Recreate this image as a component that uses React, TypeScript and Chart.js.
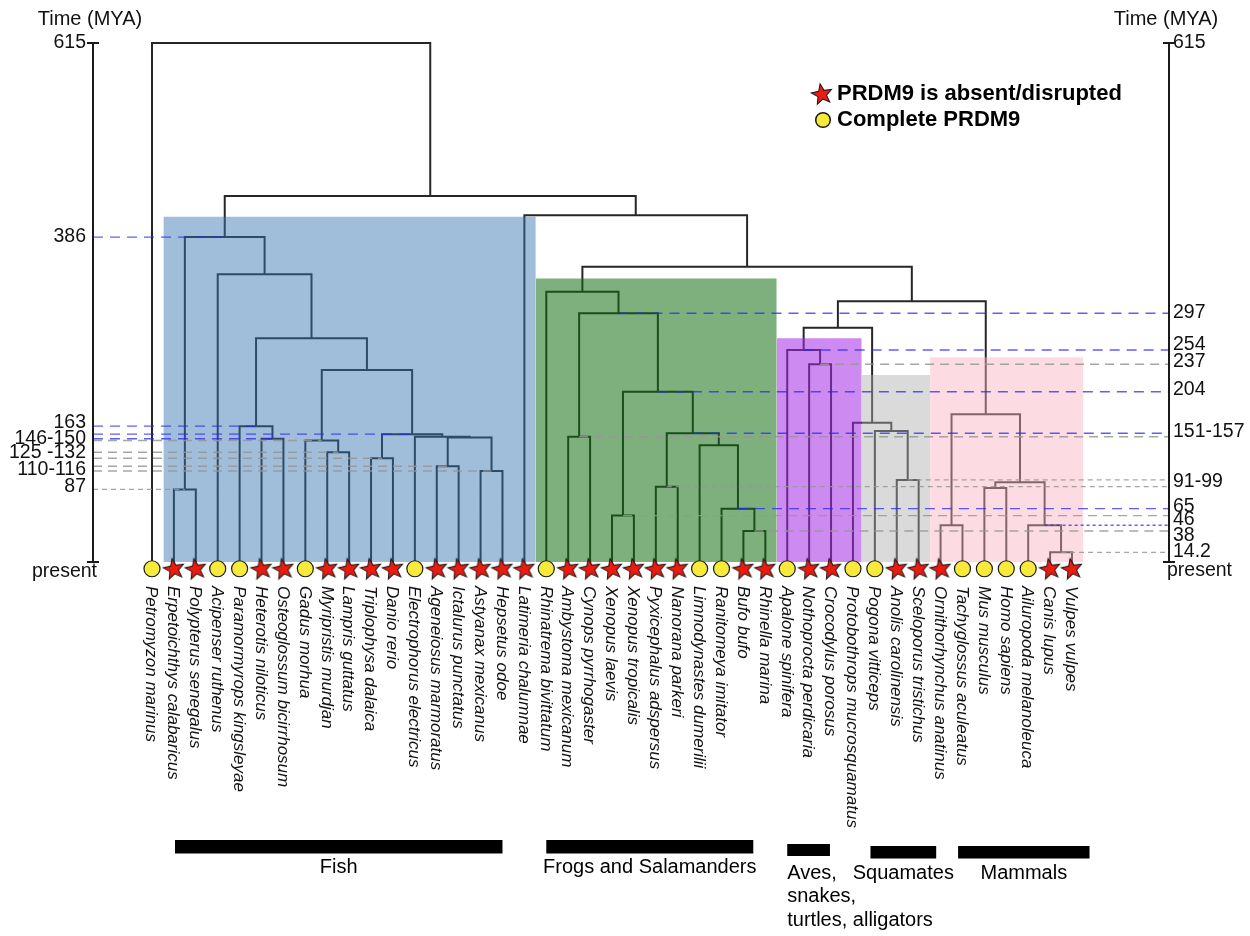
import React, { useEffect, useRef } from 'react';
import { Chart, registerables } from 'chart.js';

Chart.register(...registerables);

// ---------------- data ----------------
const species = [
  'Petromyzon marinus', 'Erpetoichthys calabaricus', 'Polypterus senegalus', 'Acipenser ruthenus',
  'Paramormyrops kingsleyae', 'Heterotis niloticus', 'Osteoglossum bicirrhosum', 'Gadus morhua',
  'Myripristis murdjan', 'Lampris guttatus', 'Triplophysa dalaica', 'Danio rerio',
  'Electrophorus electricus', 'Ageneiosus marmoratus', 'Ictalurus punctatus', 'Astyanax mexicanus',
  'Hepsetus odoe', 'Latimeria chalumnae', 'Rhinatrema bivittatum', 'Ambystoma mexicanum',
  'Cynops pyrrhogaster', 'Xenopus laevis', 'Xenopus tropicalis', 'Pyxicephalus adspersus',
  'Nanorana parkeri', 'Limnodynastes dumerilii', 'Ranitomeya imitator', 'Bufo bufo',
  'Rhinella marina', 'Apalone spinifera', 'Nothoprocta perdicaria', 'Crocodylus porosus',
  'Protobothrops mucrosquamatus', 'Pogona vitticeps', 'Anolis carolinensis', 'Sceloporus tristichus',
  'Ornithorhynchus anatinus', 'Tachyglossus aculeatus', 'Mus musculus', 'Homo sapiens',
  'Ailuropoda melanoleuca', 'Canis lupus', 'Vulpes vulpes',
];

const prdm9Status = [
  'complete', 'absent', 'absent', 'complete', 'complete', 'absent', 'absent', 'complete',
  'absent', 'absent', 'absent', 'absent', 'complete', 'absent', 'absent', 'absent',
  'absent', 'absent', 'complete', 'absent', 'absent', 'absent', 'absent', 'absent',
  'absent', 'complete', 'complete', 'absent', 'absent', 'complete', 'absent', 'absent',
  'complete', 'complete', 'absent', 'absent', 'absent', 'complete', 'complete', 'complete',
  'complete', 'absent', 'absent',
];

const legendLabels = ['PRDM9 is absent/disrupted', 'Complete PRDM9'];

// internal nodes of the tree: name, two children (species or node names), age (MYA)
const nodeNames = [
  'Polypteridae', 'Osteoglossidae', 'Osteoglossomorpha', 'Lampridacea', 'Acanthomorpha',
  'Cypriniformes', 'Siluriformes', 'Characiformes', 'Characiphysi', 'Siluriphysi',
  'Otophysi', 'Clupeocephala', 'Teleostei', 'Actinopteri', 'Actinopterygii',
  'Caudata', 'Xenopus', 'Ranoidea', 'Bufonidae', 'Hyloidea', 'Neobatrachia A', 'Neobatrachia',
  'Anura', 'Batrachia', 'Amphibia',
  'Archosauria', 'Archelosauria', 'Pleurodonta', 'Iguania', 'Toxicofera', 'Sauropsida',
  'Monotremata', 'Euarchontoglires', 'Canidae', 'Carnivora', 'Eutheria', 'Mammalia',
  'Amniota', 'Tetrapoda', 'Sarcopterygii', 'Osteichthyes', 'Vertebrata',
];
const nodeChildren = [
  ['Erpetoichthys calabaricus', 'Polypterus senegalus'],
  ['Heterotis niloticus', 'Osteoglossum bicirrhosum'],
  ['Paramormyrops kingsleyae', 'Osteoglossidae'],
  ['Myripristis murdjan', 'Lampris guttatus'],
  ['Gadus morhua', 'Lampridacea'],
  ['Triplophysa dalaica', 'Danio rerio'],
  ['Ageneiosus marmoratus', 'Ictalurus punctatus'],
  ['Astyanax mexicanus', 'Hepsetus odoe'],
  ['Siluriformes', 'Characiformes'],
  ['Electrophorus electricus', 'Characiphysi'],
  ['Cypriniformes', 'Siluriphysi'],
  ['Acanthomorpha', 'Otophysi'],
  ['Osteoglossomorpha', 'Clupeocephala'],
  ['Acipenser ruthenus', 'Teleostei'],
  ['Polypteridae', 'Actinopteri'],
  ['Ambystoma mexicanum', 'Cynops pyrrhogaster'],
  ['Xenopus laevis', 'Xenopus tropicalis'],
  ['Pyxicephalus adspersus', 'Nanorana parkeri'],
  ['Bufo bufo', 'Rhinella marina'],
  ['Ranitomeya imitator', 'Bufonidae'],
  ['Limnodynastes dumerilii', 'Hyloidea'],
  ['Ranoidea', 'Neobatrachia A'],
  ['Xenopus', 'Neobatrachia'],
  ['Caudata', 'Anura'],
  ['Rhinatrema bivittatum', 'Batrachia'],
  ['Nothoprocta perdicaria', 'Crocodylus porosus'],
  ['Apalone spinifera', 'Archosauria'],
  ['Anolis carolinensis', 'Sceloporus tristichus'],
  ['Pogona vitticeps', 'Pleurodonta'],
  ['Protobothrops mucrosquamatus', 'Iguania'],
  ['Archelosauria', 'Toxicofera'],
  ['Ornithorhynchus anatinus', 'Tachyglossus aculeatus'],
  ['Mus musculus', 'Homo sapiens'],
  ['Canis lupus', 'Vulpes vulpes'],
  ['Ailuropoda melanoleuca', 'Canidae'],
  ['Euarchontoglires', 'Carnivora'],
  ['Monotremata', 'Eutheria'],
  ['Sauropsida', 'Mammalia'],
  ['Amphibia', 'Amniota'],
  ['Latimeria chalumnae', 'Tetrapoda'],
  ['Actinopterygii', 'Sarcopterygii'],
  ['Petromyzon marinus', 'Osteichthyes'],
];
const nodeAges = [
  86, 146, 161, 130, 144,
  123, 113.4, 107.8, 147.5, 148.5,
  151.5, 227.5, 265, 341, 385,
  148.5, 55, 89.2, 36.7, 63.2, 138.3, 152.5,
  201.8, 294.7, 320.3,
  234.3, 251.2, 97.2, 155.2, 165.1, 277.6,
  43.5, 87.7, 11.5, 43.5, 94.4, 175,
  309, 350, 411, 433.7, 615,
];

// shaded clades (leaf-index span and top age)
const cladeFrom = [0.52, 17.52, 28.52, 32.4, 35.52];
const cladeTo = [17.52, 28.52, 32.4, 35.52, 42.52];
const cladeTop = [409, 336, 265, 221.6, 242.6];

// dashed guide lines to the time axes
const leftGuideNodes = ['Actinopterygii', 'Osteoglossomorpha', 'Otophysi', 'Osteoglossidae', 'Acanthomorpha', 'Lampridacea', 'Cypriniformes', 'Siluriformes', 'Characiformes', 'Polypteridae'];
const leftGuideKinds = ['blue', 'blue', 'blue', 'blue', 'gray', 'gray', 'gray', 'gray', 'gray', 'grayShort'];
const rightGuideNodes = ['Batrachia', 'Archelosauria', 'Archosauria', 'Anura', 'Neobatrachia', 'Caudata', 'Pleurodonta', 'Ranoidea', 'Hyloidea', 'Xenopus', 'Carnivora', 'Bufonidae', 'Canidae'];
const rightGuideKinds = ['blue', 'blue', 'gray', 'blue', 'blue', 'gray', 'grayShort', 'grayShort', 'blue', 'gray', 'blueDot', 'gray', 'grayShort'];

// axis tick labels (positions in MYA where each label sits)
const leftTickPos = [615, 385, 165, 146, 130, 109, 89];
const leftTickLabels = ['615', '386', '163', '146-150', '125 -132', '110-116', '87'];
const rightTickPos = [615, 296, 257, 237, 204, 154.5, 95, 65.5, 49.8, 30.8, 12.2];
const rightTickLabels = ['615', '297', '254', '237', '204', '151-157', '91-99', '65', '46', '38', '14.2'];

// taxonomic groups under the names (leaf-index spans)
const groupNames = ['Fish', 'Frogs and Salamanders', 'Aves,\nsnakes,\nturtles, alligators', 'Squamates', 'Mammals'];
const groupFrom = [1.05, 18.0, 29.0, 32.8, 36.8];
const groupTo = [16.0, 27.45, 30.95, 35.8, 42.8];

// ---------------- layout / style ----------------
const W = 1250;
const H = 936;
const LEAF0_PX = 152;
const LEAF_STEP = 920 / 42;
const AX_LEFT = 93;
const AX_RIGHT = 1169;
const X_MIN = (AX_LEFT - LEAF0_PX) / LEAF_STEP;
const X_MAX = (AX_RIGHT - LEAF0_PX) / LEAF_STEP;
const PX_PER_MY = 519 / 615;
const Y_MIN = -40;
const Y_MAX = 640;
const PAD_TOP = 43 - (Y_MAX - 615) * PX_PER_MY;
const PAD_BOTTOM = H - (562 - Y_MIN * PX_PER_MY);
const MARKER_T = -8;
const FONT = "'Liberation Sans', Arial, Helvetica, sans-serif";

const cladeFill = [
  'rgba(53,117,174,0.47)',
  'rgba(18,111,16,0.55)',
  'rgba(164,42,227,0.55)',
  'rgba(173,173,173,0.45)',
  'rgba(248,177,191,0.45)',
];
const guideStyles: any = {
  blue: { color: 'rgba(40,40,250,0.75)', dash: [10, 7], width: 1.4 },
  blueDot: { color: 'rgba(40,40,250,0.75)', dash: [3, 3], width: 1.4 },
  gray: { color: 'rgba(150,150,150,0.85)', dash: [9, 6], width: 1.4 },
  grayShort: { color: 'rgba(150,150,150,0.85)', dash: [5, 4], width: 1.3 },
};
const groupBarTop = [840, 840, 844, 846, 846];
const groupBarH = [13.5, 13.5, 12, 12.5, 12.5];

// ---------------- helpers ----------------
const leafIdx = new Map(species.map((s, i) => [s, i]));
const nodeIdx = new Map(nodeNames.map((n, i) => [n, i]));

function place(name: string): any {
  if (leafIdx.has(name)) return { x: leafIdx.get(name), age: 0 };
  const k = nodeIdx.get(name) as number;
  const a = place(nodeChildren[k][0]);
  const b = place(nodeChildren[k][1]);
  return { x: (a.x + b.x) / 2, age: nodeAges[k], a, b };
}

function makeStar(): HTMLCanvasElement {
  const c = document.createElement('canvas');
  const s = 26;
  c.width = s;
  c.height = s;
  const g = c.getContext('2d') as CanvasRenderingContext2D;
  g.translate(s / 2, s / 2 + 0.5);
  g.rotate(-0.18);
  g.beginPath();
  for (let i = 0; i < 10; i++) {
    const r = i % 2 === 0 ? 10.8 : 4.6;
    const a = -Math.PI / 2 + (i * Math.PI) / 5;
    g.lineTo(r * Math.cos(a), r * Math.sin(a));
  }
  g.closePath();
  g.fillStyle = '#ec1a0f';
  g.fill();
  g.lineWidth = 1;
  g.strokeStyle = '#1a1a1a';
  g.stroke();
  return c;
}

export default function App() {
  const ref = useRef<HTMLCanvasElement | null>(null);

  useEffect(() => {
    document.body.style.margin = '0';
    const canvas = ref.current;
    if (!canvas) return;
    const star = makeStar();

    // tree segments
    const treePts: any[] = [];
    nodeNames.forEach((n) => {
      const p = place(n);
      treePts.push({ x: p.a.x, y: p.a.age }, { x: p.a.x, y: p.age }, { x: p.b.x, y: p.age }, { x: p.b.x, y: p.b.age }, { x: p.b.x, y: null });
    });

    const guidePts: any = { blue: [], blueDot: [], gray: [], grayShort: [] };
    leftGuideNodes.forEach((n, i) => {
      const p = place(n);
      guidePts[leftGuideKinds[i]].push({ x: X_MIN, y: p.age }, { x: p.x, y: p.age }, { x: p.x, y: null });
    });
    rightGuideNodes.forEach((n, i) => {
      const p = place(n);
      guidePts[rightGuideKinds[i]].push({ x: p.x, y: p.age }, { x: X_MAX, y: p.age }, { x: X_MAX, y: null });
    });

    const datasets: any[] = [];
    datasets.push({
      label: 'tree', data: treePts, showLine: true, borderColor: '#262626', borderWidth: 2,
      pointRadius: 0, spanGaps: false, order: 10, borderCapStyle: 'square', borderJoinStyle: 'miter',
    });
    cladeTop.forEach((top, i) => {
      datasets.push({
        label: 'clade' + i, data: [{ x: cladeFrom[i], y: top }, { x: cladeTo[i], y: top }], showLine: true,
        borderWidth: 0, borderColor: 'rgba(0,0,0,0)', pointRadius: 0, fill: 'origin', backgroundColor: cladeFill[i], order: 8,
      });
    });
    Object.keys(guidePts).forEach((k) => {
      const st = guideStyles[k];
      datasets.push({
        label: 'guide-' + k, data: guidePts[k], showLine: true, borderColor: st.color, borderWidth: st.width,
        borderDash: st.dash, pointRadius: 0, spanGaps: false, order: 5,
      });
    });
    datasets.push({
      label: legendLabels[0],
      data: species.map((s, i) => ({ x: i, y: MARKER_T })).filter((_, i) => prdm9Status[i] === 'absent'),
      pointStyle: star, pointRadius: 10, order: 1,
    });
    datasets.push({
      label: legendLabels[1],
      data: species.map((s, i) => ({ x: i, y: MARKER_T })).filter((_, i) => prdm9Status[i] === 'complete'),
      pointStyle: 'circle', pointRadius: 8, backgroundColor: '#f8ea3a', borderColor: '#1a1a1a', borderWidth: 1.2, order: 1,
    });

    const decor = {
      id: 'decor',
      afterDraw(chart: any) {
        const { ctx, chartArea } = chart;
        const xs = chart.scales.x;
        const ys = chart.scales.y;
        const rootAge = Math.max(...nodeAges);
        const y0 = ys.getPixelForValue(0);
        const yT = ys.getPixelForValue(rootAge);
        ctx.save();
        // axes
        ctx.strokeStyle = '#1a1a1a';
        ctx.lineWidth = 2;
        ctx.setLineDash([]);
        [chartArea.left, chartArea.right].forEach((ax: number) => {
          ctx.beginPath();
          ctx.moveTo(ax, yT);
          ctx.lineTo(ax, y0);
          ctx.moveTo(ax - 6, yT);
          ctx.lineTo(ax + 6, yT);
          ctx.moveTo(ax - 6, y0);
          ctx.lineTo(ax + 6, y0);
          ctx.stroke();
        });
        ctx.fillStyle = '#111';
        ctx.font = `19.5px ${FONT}`;
        ctx.textBaseline = 'middle';
        ctx.textAlign = 'right';
        ctx.fillText('present', chartArea.left + 4, y0 + 10);
        ctx.textAlign = 'left';
        ctx.fillText('present', chartArea.right - 2, y0 + 9);
        // axis titles
        ctx.font = `20px ${FONT}`;
        ctx.textAlign = 'center';
        ctx.fillText('Time (MYA)', chartArea.left - 3, 19);
        ctx.fillText('Time (MYA)', chartArea.right - 3, 19);
        // species names
        ctx.font = `italic 17px ${FONT}`;
        ctx.textAlign = 'left';
        species.forEach((s, i) => {
          ctx.save();
          ctx.translate(xs.getPixelForValue(i) - 1, 586);
          ctx.rotate(Math.PI / 2);
          ctx.fillText(s, 0, 0);
          ctx.restore();
        });
        // groups
        ctx.font = `20px ${FONT}`;
        groupNames.forEach((g, i) => {
          const a = xs.getPixelForValue(groupFrom[i]);
          const b = xs.getPixelForValue(groupTo[i]);
          ctx.fillStyle = '#000';
          ctx.fillRect(a, groupBarTop[i], b - a, groupBarH[i]);
          const lines = g.split('\n');
          if (lines.length > 1) {
            ctx.textAlign = 'left';
            lines.forEach((l, j) => ctx.fillText(l, a, groupBarTop[i] + 29 + j * 23.5));
          } else {
            ctx.textAlign = 'center';
            ctx.fillText(g, (a + b) / 2, groupBarTop[i] + 27);
          }
        });
        // legend
        ctx.drawImage(star, 822 - star.width / 2, 94 - star.height / 2);
        ctx.beginPath();
        ctx.arc(823, 120, 7.3, 0, Math.PI * 2);
        ctx.fillStyle = '#f8ea3a';
        ctx.fill();
        ctx.lineWidth = 1.5;
        ctx.strokeStyle = '#1a1a1a';
        ctx.stroke();
        ctx.fillStyle = '#000';
        ctx.font = `bold 22px ${FONT}`;
        ctx.textAlign = 'left';
        ctx.fillText(legendLabels[0], 837, 94);
        ctx.fillText(legendLabels[1], 837, 120);
        ctx.restore();
      },
    };

    const tickFont = { size: 19.5, family: FONT };
    const chart = new Chart(canvas, {
      type: 'scatter',
      data: { datasets },
      options: {
        animation: false,
        responsive: false,
        devicePixelRatio: 1,
        events: [],
        layout: { padding: { top: PAD_TOP, bottom: PAD_BOTTOM, left: 0, right: 0 } },
        plugins: { legend: { display: false }, tooltip: { enabled: false }, title: { display: false } },
        scales: {
          x: { type: 'linear', display: false, min: X_MIN, max: X_MAX },
          y: {
            type: 'linear', position: 'left', min: Y_MIN, max: Y_MAX,
            grid: { display: false, drawTicks: false }, border: { display: false },
            afterBuildTicks: (s: any) => { s.ticks = leftTickPos.map((v) => ({ value: v })); },
            afterFit: (s: any) => { s.width = AX_LEFT; },
            ticks: { autoSkip: false, padding: 7, color: '#111', font: tickFont, callback: (_v: any, i: number) => leftTickLabels[i] },
          },
          y2: {
            type: 'linear', position: 'right', min: Y_MIN, max: Y_MAX,
            grid: { display: false, drawTicks: false }, border: { display: false },
            afterBuildTicks: (s: any) => { s.ticks = rightTickPos.map((v) => ({ value: v })); },
            afterFit: (s: any) => { s.width = W - AX_RIGHT; },
            ticks: { autoSkip: false, padding: 4, color: '#111', font: tickFont, callback: (_v: any, i: number) => rightTickLabels[i] },
          },
        },
      } as any,
      plugins: [decor],
    });
    return () => chart.destroy();
  }, []);

  return (
    <div style={{ width: W, height: H, background: '#fff' }}>
      <canvas ref={ref} width={W} height={H} style={{ width: W, height: H, display: 'block' }} />
    </div>
  );
}
